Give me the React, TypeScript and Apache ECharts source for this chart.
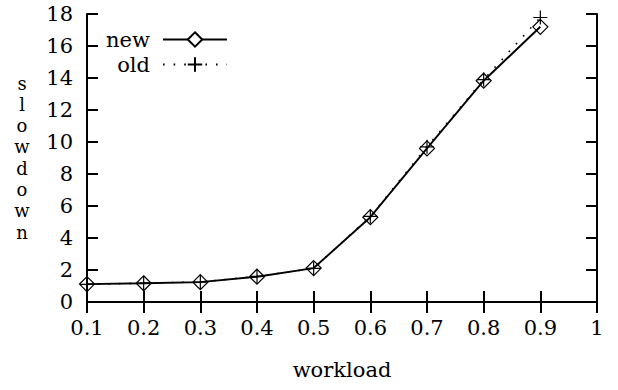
import React, { useEffect, useRef } from "react";
import * as echarts from "echarts";

const workload = [0.1, 0.2, 0.3, 0.4, 0.5, 0.6, 0.7, 0.8, 0.9];
const newSlowdown = [1.12, 1.17, 1.24, 1.58, 2.12, 5.3, 9.6, 13.83, 17.2];
const oldSlowdown = [1.1, 1.18, 1.25, 1.6, 2.1, 5.35, 9.7, 13.9, 17.78];
const yLabelLetters = ["s", "l", "o", "w", "d", "o", "w", "n"];

const FONT = "DejaVu Serif";

export default function App() {
  const ref = useRef<HTMLDivElement>(null);
  useEffect(() => {
    if (!ref.current) return;
    const chart = echarts.init(ref.current, null, { renderer: "svg" });
    const axisLine = { show: true, lineStyle: { color: "#000", width: 2 } };
    const axisTick = { show: true, inside: true, length: 11, lineStyle: { color: "#000", width: 2 } };
    const labelStyle = { color: "#000", fontFamily: FONT, fontSize: 21 };
    chart.setOption({
      animation: false,
      backgroundColor: "#fff",
      grid: { left: 87, right: 21, top: 14, bottom: 88, containLabel: false },
      xAxis: [
        {
          type: "value",
          min: 0.1,
          max: 1,
          interval: 0.1,
          axisLine,
          axisTick,
          splitLine: { show: false },
          axisLabel: { ...labelStyle, margin: 15, formatter: (v: number) => String(Math.round(v * 10) / 10) },
          name: "workload",
          nameLocation: "middle",
          nameGap: 57,
          nameTextStyle: { ...labelStyle },
        },
        {
          type: "value",
          position: "top",
          min: 0.1,
          max: 1,
          interval: 0.1,
          axisLine,
          axisTick,
          splitLine: { show: false },
          axisLabel: { show: false },
        },
      ],
      yAxis: [
        {
          type: "value",
          min: 0,
          max: 18,
          interval: 2,
          axisLine,
          axisTick,
          splitLine: { show: false },
          axisLabel: { ...labelStyle, margin: 14 },
        },
        {
          type: "value",
          position: "right",
          min: 0,
          max: 18,
          interval: 2,
          axisLine,
          axisTick,
          splitLine: { show: false },
          axisLabel: { show: false },
        },
      ],
      legend: [
        {
          data: ["new"],
          right: 390,
          top: 29,
          align: "right",
          itemWidth: 64,
          itemHeight: 18,
          itemGap: 0,
          padding: 0,
          textStyle: { ...labelStyle, padding: [0, 8, 0, 0] },
          itemStyle: { color: "#fff" },
          selectedMode: false,
        },
        {
          data: ["old"],
          right: 390,
          top: 54,
          align: "right",
          itemWidth: 64,
          itemHeight: 18,
          itemGap: 0,
          padding: 0,
          textStyle: { ...labelStyle, padding: [0, 8, 0, 0] },
          itemStyle: { color: "#fff" },
          selectedMode: false,
        },
      ],
      graphic: yLabelLetters.map((ch, i) => ({
        type: "text",
        x: 22,
        y: 83 + i * 21.3,
        style: {
          text: ch,
          fontFamily: FONT,
          fontSize: 18,
          lineHeight: 18,
          fill: "#000",
          align: "center",
          verticalAlign: "middle",
        },
      })),
      series: [
        {
          name: "old",
          type: "line",
          data: workload.map((x, i) => [x, oldSlowdown[i]]),
          symbol: "path://M5,0L5,10M0,5L10,5",
          symbolSize: 14,
          lineStyle: { color: "#000", width: 1.6, type: [1.6, 9] },
          itemStyle: { color: "transparent", borderColor: "#000", borderWidth: 1.2 },
          emphasis: { disabled: true },
          z: 2,
        },
        {
          name: "new",
          type: "line",
          data: workload.map((x, i) => [x, newSlowdown[i]]),
          symbol: "diamond",
          symbolSize: 15,
          lineStyle: { color: "#000", width: 1.9 },
          itemStyle: { color: "transparent", borderColor: "#000", borderWidth: 1.2 },
          emphasis: { disabled: true },
          z: 3,
        },
      ],
    });
    return () => chart.dispose();
  }, []);
  return <div ref={ref} style={{ width: 618, height: 390, position: "absolute", left: 0, top: 0 }} />;
}
